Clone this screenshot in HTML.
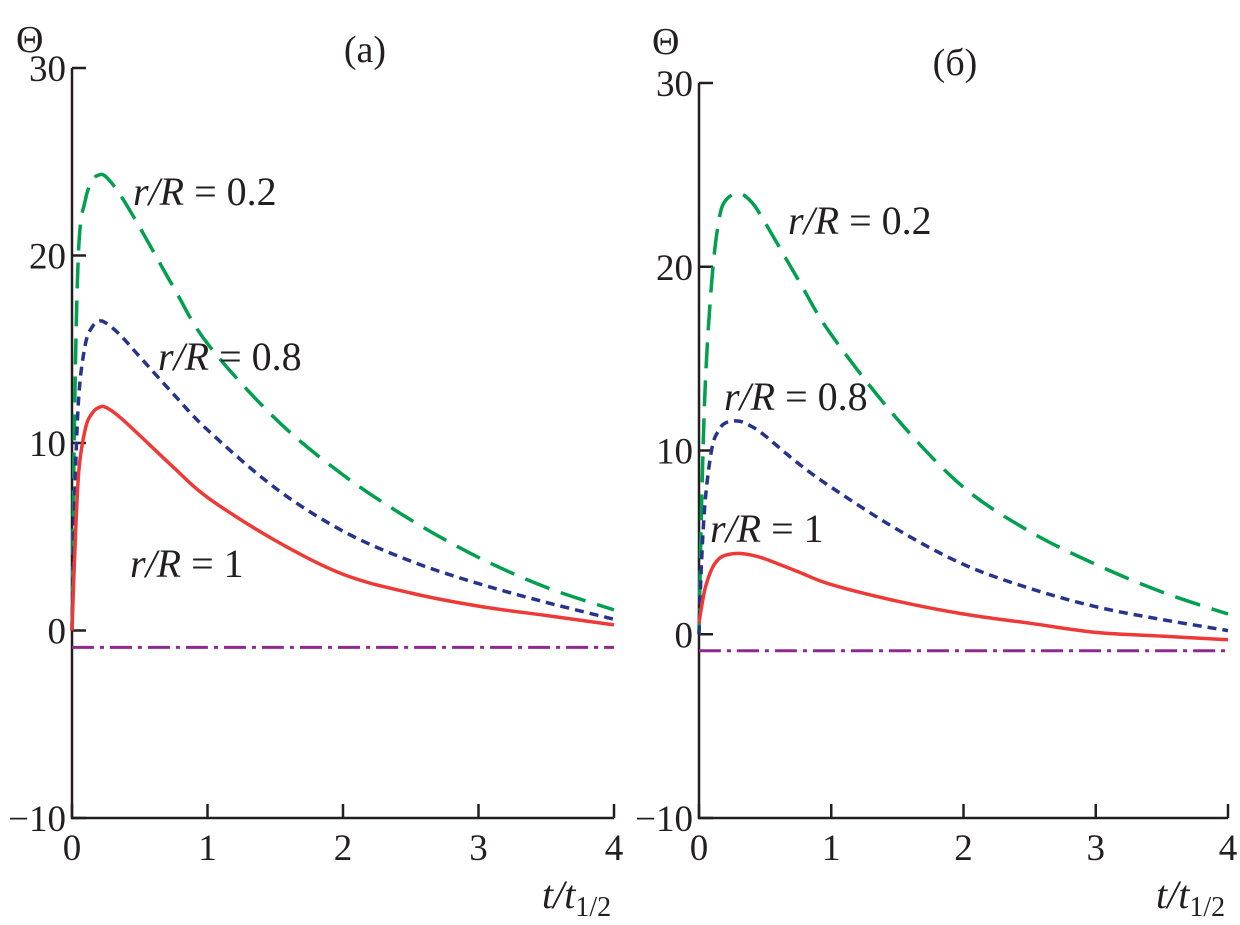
<!DOCTYPE html>
<html><head><meta charset="utf-8"><style>
body{margin:0;background:#fff}
svg text{font-family:"Liberation Serif",serif;fill:#231f20}
</style></head><body>
<svg width="1240" height="920" xmlns="http://www.w3.org/2000/svg" id="svg"></svg>
<script>
const xTicks=[0,1,2,3,4];
const yTicks=[-10,0,10,20,30];
const yTickLabels=["\u221210","0","10","20","30"];
const tA=[0,0.02,0.05,0.1,0.15,0.2,0.25,0.35,0.5,0.75,1,1.5,2,2.5,3,3.5,4];
const greenA=[0,12,20.5,23,24,24.3,24.2,23.3,21.5,18.3,15.3,11.3,8.3,5.9,3.9,2.3,1.1];
const blueA=[0,7,12.5,15.3,16.2,16.5,16.4,15.8,14.6,12.6,10.7,7.6,5.3,3.7,2.5,1.5,0.6];
const redA=[0,4,8.5,10.8,11.6,11.9,11.9,11.4,10.4,8.7,7.1,4.8,3.0,2.0,1.3,0.8,0.3];
const purpleA=[-0.9,-0.9];
const tB=[0,0.02,0.05,0.1,0.15,0.2,0.3,0.4,0.5,0.75,1,1.5,2,2.5,3,3.5,4];
const greenB=[0,7,14,19.5,22.5,23.6,24,23.5,22.4,19.3,16.3,11.7,8.0,5.6,3.8,2.3,1.1];
const blueB=[0,4,7.5,10.2,11.1,11.5,11.6,11.3,10.8,9.3,8.0,5.7,3.8,2.5,1.5,0.8,0.2];
const redB=[0.6,1.5,2.6,3.6,4.1,4.3,4.4,4.3,4.1,3.4,2.7,1.8,1.1,0.6,0.1,-0.1,-0.3];
const purpleB=[-0.9,-0.9];
const NS="http://www.w3.org/2000/svg";
const svg=document.getElementById('svg');
function mk(tag,attrs,parent){const e=document.createElementNS(NS,tag);for(const k in attrs)e.setAttribute(k,attrs[k]);(parent||svg).appendChild(e);return e;}
function smooth(pts){
 let d='M'+pts[0][0].toFixed(1)+','+pts[0][1].toFixed(1);
 for(let i=0;i<pts.length-1;i++){
  const p0=pts[i-1]||pts[i],p1=pts[i],p2=pts[i+1],p3=pts[i+2]||p2;
  const c1=[p1[0]+(p2[0]-p0[0])/6,p1[1]+(p2[1]-p0[1])/6];
  const c2=[p2[0]-(p3[0]-p1[0])/6,p2[1]-(p3[1]-p1[1])/6];
  d+=`C${c1[0].toFixed(1)},${c1[1].toFixed(1)} ${c2[0].toFixed(1)},${c2[1].toFixed(1)} ${p2[0].toFixed(1)},${p2[1].toFixed(1)}`;
 }
 return d;
}
function panel(id,x0,x4,y30,yM10,series,label,labelX,labelY,thetaX,thetaY,anns){
 const g=mk('g',{});
 
 
 const X=t=>x0+(x4-x0)*t/4, Y=v=>yM10+(y30-yM10)*(v+10)/40;
 const ax=mk('path',{d:`M${x0},${Y(30)}V${Y(-10)}H${X(4)}`,stroke:'#231f20','stroke-width':2.5,fill:'none'},g);
 
 
 yTicks.forEach((v,i)=>{
  mk('line',{x1:x0,x2:x0+14,y1:Y(v),y2:Y(v),stroke:'#231f20','stroke-width':2.5},g);
  const t=mk('text',{x:x0-6,y:Y(v)+13,'text-anchor':'end','font-size':37},g);t.textContent=yTickLabels[i];
  
  
 });
 xTicks.forEach(v=>{
  mk('line',{x1:X(v),x2:X(v),y1:Y(-10),y2:Y(-10)-14,stroke:'#231f20','stroke-width':2.5},g);
  const t=mk('text',{x:X(v),y:Y(-10)+42,'text-anchor':'middle','font-size':37},g);t.textContent=v;
  
  
 });
 series.forEach(s=>{
  const pts=s.t.map((t,i)=>[X(t),Y(s.v[i])]);
  const p=mk('path',{d:smooth(pts),stroke:s.c,'stroke-width':s.w||3.5,fill:'none','stroke-dasharray':s.dash||'','stroke-linejoin':'round'},g);
  
  
 });
 const th=mk('text',{x:thetaX,y:thetaY,'font-size':38},g);th.textContent='\u0398';
 
 
 const pl=mk('text',{x:labelX,y:labelY,'font-size':38,'text-anchor':'middle'},g);pl.textContent=label;
 
 
 const xt=mk('text',{x:x4-72,y:Y(-10)+90,'font-size':40,'font-style':'italic'},g);
 xt.innerHTML='t/t<tspan font-size="28" dy="8" font-style="normal">1/2</tspan>';
 
 
 anns.forEach(a=>{
  const t=mk('text',{x:a[0],y:a[1],'font-size':40},g);
  t.innerHTML='<tspan font-style="italic">r/R</tspan> = '+a[2];
  
  
 });
}
const mkSeries=(t,g,b,r,p)=>[
 {t,v:g,c:'#00a04f',dash:'26,12',name:'series-r-0.2'},
 {t,v:b,c:'#27348b',dash:'9,6',name:'series-r-0.8'},
 {t,v:r,c:'#ee3a37',name:'series-r-1'},
 {t:[0,4],v:p,c:'#8e2a8f',dash:'22,6,4,6',w:3,name:'series-reference'}];
panel('a',72,614,68,818,mkSeries(tA,greenA,blueA,redA,purpleA),'(a)',365,62,16,52,
 [[133,205,'0.2'],[158,370,'0.8'],[130,577,'1']]);
panel('b',699,1228,83,818,mkSeries(tB,greenB,blueB,redB,purpleB),'(б)',955,75,652,54,
 [[788,234,'0.2'],[724,410,'0.8'],[710,542,'1']]);
</script>
</body></html>
